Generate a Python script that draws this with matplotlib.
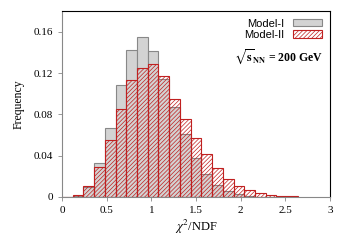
import numpy as np
import matplotlib
matplotlib.use("Agg")
import matplotlib.pyplot as plt

# Histogram data (bin width 0.12)
bin_edges = [round(0.12 * i, 2) for i in range(23)]
model1 = [0.0, 0.0005, 0.0100, 0.0325, 0.0668, 0.1086, 0.1423, 0.1550, 0.1417, 0.1140,
          0.0867, 0.0607, 0.0382, 0.0222, 0.0113, 0.0058, 0.0026, 0.0010, 0.0004, 0.0002,
          0.0001, 0.0]
model2 = [0.0, 0.0016, 0.0103, 0.0286, 0.0550, 0.0855, 0.1134, 0.1253, 0.1290, 0.1170,
          0.0951, 0.0750, 0.0569, 0.0414, 0.0276, 0.0170, 0.0103, 0.0064, 0.0038, 0.0016,
          0.0010, 0.0007]

plt.rcParams['font.family'] = ['Liberation Serif', 'DejaVu Serif']
plt.rcParams['mathtext.fontset'] = 'stix'
plt.rcParams['hatch.linewidth'] = 0.5
plt.rcParams['hatch.color'] = '#e88080'

fig = plt.figure(figsize=(3.5, 2.45), dpi=100)
ax = fig.add_axes([0.177, 0.196, 0.766, 0.759])

left = np.array(bin_edges[:len(model1)])
w = 0.12
ax.bar(left, model1, width=w, align='edge', color='#d3d3d3', edgecolor='#888888',
       linewidth=0.8, label='Model-I')
ax.bar(left, model2, width=w, align='edge', facecolor='none', edgecolor='#c02020',
       hatch='////////', linewidth=0.8, label='Model-II')

ax.set_xlim(0, 3)
ax.set_ylim(0, 0.18)
ax.set_xticks([0, 0.5, 1, 1.5, 2, 2.5, 3])
ax.set_xticklabels(['0', '0.5', '1', '1.5', '2', '2.5', '3'])
ax.set_yticks([0, 0.04, 0.08, 0.12, 0.16])
ax.set_yticklabels(['0', '0.04', '0.08', '0.12', '0.16'])
ax.tick_params(labelsize=8, length=3, width=0.6, color='#888888')
ax.set_xlabel(r'$\chi^2$/NDF', fontsize=9, labelpad=2)
ax.set_ylabel('Frequency', fontsize=8.5, labelpad=6)
for s in ['left', 'bottom']:
    ax.spines[s].set_color('#888888')
for s in ax.spines.values():
    s.set_linewidth(0.8)

leg = ax.legend(loc='upper right', frameon=False, markerfirst=False,
                prop={'family': 'Liberation Sans', 'size': 8}, handlelength=2.6,
                handleheight=0.6, labelspacing=0.1, borderaxespad=0.3)

ax.text(0.975, 0.755, r'$\mathbf{\sqrt{s}_{NN}}$ = 200 GeV', transform=ax.transAxes,
        ha='right', va='center', fontsize=8.5, fontweight='bold')

fig.savefig('out.png', dpi=100)
